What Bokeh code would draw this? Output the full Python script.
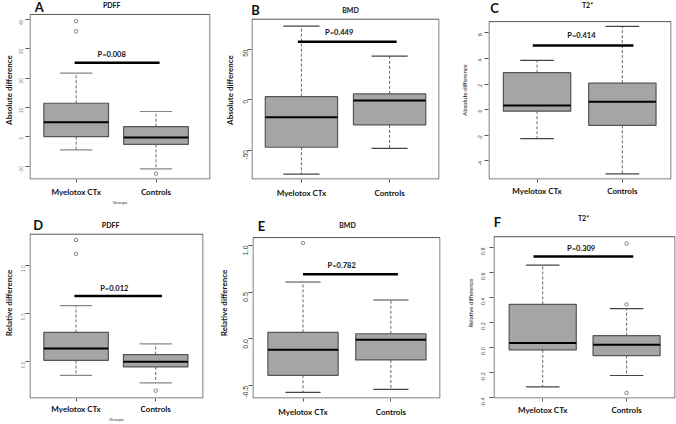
import math
from bokeh.plotting import figure
from bokeh.models import FixedTicker, PrintfTickFormatter, Range1d
from bokeh.layouts import column, row
from bokeh.embed import file_html
from bokeh.resources import INLINE
from bokeh.core.properties import value

# ---------------- data ----------------
groups = ["Myelotox CTx", "Controls"]
positions = [1, 2]

# A: absolute difference, PDFF
a_q1 = [0.0, -2.6]
a_med = [4.9, -0.3]
a_q3 = [11.4, 3.4]
a_lo = [-4.5, -11.0]
a_hi = [21.7, 8.6]
a_out_x = [1, 1, 2]
a_out_y = [39.4, 35.9, -12.6]
a_ticks = [-10, 0, 10, 20, 30, 40]
a_p = "P=0.008"
a_bar_y = 25.2

# B: absolute difference, BMD
b_q1 = [-47.2, -25.0]
b_med = [-17.3, -0.6]
b_q3 = [3.2, 5.9]
b_lo = [-73.9, -48.4]
b_hi = [73.4, 43.5]
b_out_x = []
b_out_y = []
b_ticks = [-50, 0, 50]
b_p = "P=0.449"
b_bar_y = 57.8

# C: absolute difference, T2*
c_q1 = [-0.13, -1.24]
c_med = [0.32, 0.61]
c_q3 = [2.89, 2.07]
c_lo = [-2.27, -5.04]
c_hi = [3.85, 6.52]
c_out_x = []
c_out_y = []
c_ticks = [-4, -2, 0, 2, 4, 6]
c_p = "P=0.414"
c_bar_y = 5.01

# D: relative difference, PDFF
d_q1 = [0.01, -0.058]
d_med = [0.135, -0.004]
d_q3 = [0.301, 0.071]
d_lo = [-0.146, -0.224]
d_hi = [0.579, 0.183]
d_out_x = [1, 1, 2]
d_out_y = [1.263, 1.118, -0.305]
d_ticks = [0.0, 0.5, 1.0]
d_p = "P=0.012"
d_bar_y = 0.681

# E: relative difference, BMD
e_q1 = [-0.388, -0.224]
e_med = [-0.115, -0.007]
e_q3 = [0.07, 0.056]
e_lo = [-0.570, -0.538]
e_hi = [0.609, 0.417]
e_out_x = [1]
e_out_y = [1.025]
e_ticks = [-0.5, 0.0, 0.5, 1.0]
e_p = "P=0.782"
e_bar_y = 0.692

# F: relative difference, T2*
f_q1 = [-0.02, -0.066]
f_med = [0.034, 0.021]
f_q3 = [0.343, 0.093]
f_lo = [-0.317, -0.226]
f_hi = [0.657, 0.309]
f_out_x = [2, 2, 2]
f_out_y = [0.83, 0.343, -0.365]
f_ticks = [-0.4, -0.2, 0.0, 0.2, 0.4, 0.6, 0.8]
f_p = "P=0.309"
f_bar_y = 0.727

# ---------------- layout ----------------
COL_EDGES = [0, 212, 443, 676]
ROW_EDGES = [0, 207, 424]

BOX_FILL = "#a5a5a5"
EDGE = "#555555"


def make_panel(d, s):
    c1, c2 = s["centers"]
    fl, fr, ft, fb = s["frame"]          # visible box, page pixels
    unit = c2 - c1
    xmin = 1 - (c1 - fl) / unit
    xmax = 1 + (fr - c1) / unit
    ymin, ymax = s["yrange"]
    cx0, cx1 = COL_EDGES[s["col"]], COL_EDGES[s["col"] + 1]
    ry0, ry1 = ROW_EDGES[s["row"]], ROW_EDGES[s["row"] + 1]
    W, H = cx1 - cx0, ry1 - ry0
    L = round(fl - cx0)
    R = round(cx1 - fr)
    B = round(ry1 - fb)
    frame_w = W - L - R
    frame_h = H - B
    box_h = frame_h - (ft - ry0)
    # the data frame reaches the top of the canvas so that the panel
    # letter and title can be drawn as text glyphs
    ytop = ymin + (ymax - ymin) * frame_h / box_h
    p = figure(width=W, height=H, x_range=Range1d(xmin, xmax),
               y_range=Range1d(ymin, ytop), output_backend="svg",
               toolbar_location=None, min_border_left=L, min_border_right=R,
               min_border_top=0, min_border_bottom=B)
    p.title.visible = False
    p.xgrid.visible = False
    p.ygrid.visible = False
    p.outline_line_color = None
    p.background_fill_color = "white"
    p.border_fill_color = "white"

    dxp = (xmax - xmin) / frame_w
    dyp = (ytop - ymin) / frame_h

    def rx(xr):
        return xmin + (xr - cx0 - L) * dxp

    def ry(yr):
        return ymin + (ry1 - B - yr) * dyp

    # plot box
    p.quad(left=[xmin + 0.5 * dxp], right=[xmax - 0.5 * dxp],
           bottom=[ymin + 0.5 * dyp], top=[ymax], fill_color=None,
           line_color=EDGE, line_width=1)

    bw = s["bw"]
    q1, med, q3, lo, hi = d["q1"], d["med"], d["q3"], d["lo"], d["hi"]
    p.segment(x0=positions, y0=q3, x1=positions, y1=hi, line_color="#666666",
              line_width=1, line_dash="3 2")
    p.segment(x0=positions, y0=q1, x1=positions, y1=lo, line_color="#666666",
              line_width=1, line_dash="3 2")
    p.segment(x0=[x - bw / 4 for x in positions], y0=hi,
              x1=[x + bw / 4 for x in positions], y1=hi,
              line_color=s["cap"], line_width=1.2)
    p.segment(x0=[x - bw / 4 for x in positions], y0=lo,
              x1=[x + bw / 4 for x in positions], y1=lo,
              line_color=s["cap"], line_width=1.2)
    p.vbar(x=positions, width=bw, bottom=q1, top=q3, fill_color=BOX_FILL,
           line_color=EDGE, line_width=1.2)
    p.segment(x0=[x - bw / 2 for x in positions], y0=med,
              x1=[x + bw / 2 for x in positions], y1=med,
              line_color="black", line_width=2)
    if d["out_x"]:
        p.scatter(x=d["out_x"], y=d["out_y"], marker="circle", size=3.5,
                  fill_color=None, line_color="#666666", line_width=0.8)
    bx0, bx1 = s["bar_x"]
    p.segment(x0=[bx0], y0=[d["bar_y"]], x1=[bx1], y1=[d["bar_y"]],
              line_color="black", line_width=2.5)
    tx, ty = s["ptext"]
    p.text(x=[tx], y=[ty], text=[d["p"]], text_font=value("Lato"),
           text_font_style="bold", text_font_size="7.5px", text_color="#111111",
           text_align="center", text_baseline="middle")

    # panel letter and title
    lx, ly = s["letter"]
    p.text(x=[rx(lx)], y=[ry(ly)], text=[s["letter_text"]],
           text_font=value("Lato"), text_font_style="bold",
           text_font_size="13px", text_color="#111111",
           text_align="center", text_baseline="middle")
    tx2, ty2 = s["title_pos"]
    p.text(x=[rx(tx2)], y=[ry(ty2)], text=[s["title"]],
           text_font=value("Lato"), text_font_style="bold",
           text_font_size="7px", text_color="#111111",
           text_align="center", text_baseline="middle")

    # axes
    p.axis.axis_line_color = None
    p.axis.minor_tick_line_color = None
    p.axis.major_tick_in = 0
    p.axis.major_tick_line_color = EDGE

    xa = p.xaxis[0]
    xa.ticker = FixedTicker(ticks=positions)
    xa.major_label_overrides = {1: groups[0], 2: groups[1]}
    xa.major_tick_out = 3
    xa.major_label_standoff = s["x_standoff"]
    xa.major_label_text_font = "Lato"
    xa.major_label_text_font_style = "bold"
    xa.major_label_text_font_size = "8px"
    xa.major_label_text_color = "#111111"
    if s.get("xlabel"):
        xa.axis_label = s["xlabel"]
        xa.axis_label_text_font = "Lato"
        xa.axis_label_text_font_style = "normal"
        xa.axis_label_text_font_size = "4.5px"
        xa.axis_label_text_color = "#333333"
        xa.axis_label_standoff = 0

    ya = p.yaxis[0]
    ya.ticker = FixedTicker(ticks=d["ticks"])
    ya.formatter = PrintfTickFormatter(format=s["fmt"])
    ya.major_label_orientation = math.pi / 2
    ya.major_tick_out = 4
    ya.major_label_standoff = s["y_standoff"]
    ya.major_label_text_font = "Liberation Sans"
    ya.major_label_text_font_size = s["tick_size"]
    ya.major_label_text_color = s["tick_color"]
    ya.axis_label = s["ylabel"]
    ya.axis_label_text_font = "Lato"
    ya.axis_label_text_font_style = s["ylabel_style"]
    ya.axis_label_text_font_size = s["ylabel_size"]
    ya.axis_label_text_color = "#111111"
    ya.axis_label_standoff = s["ylabel_standoff"]
    return p


def pack(prefix):
    g = globals()
    return {k: g[prefix + "_" + k] for k in
            ["q1", "med", "q3", "lo", "hi", "out_x", "out_y", "ticks", "p", "bar_y"]}


spec_a = dict(col=0, row=0, centers=(72.7, 154.3), frame=(25, 210, 14, 180),
              yrange=(-14.6, 41.7), bw=0.81, cap="#888888", bar_x=(0.98, 2.045),
              ptext=(1.445, 28.0), fmt="%d", x_standoff=4, xlabel="Groups",
              y_standoff=4, tick_size="5px", tick_color="#888888",
              ylabel="Absolute difference", ylabel_style="bold", ylabel_size="8px",
              ylabel_standoff=1, letter=(35, 7), letter_text="A",
              title="PDFF", title_pos=(109, 5))
spec_b = dict(col=1, row=0, centers=(300.7, 389.0), frame=(250.7, 439, 19, 182.3),
              yrange=(-79.3, 80.3), bw=0.82, cap="#444444", bar_x=(0.96, 2.08),
              ptext=(1.428, 67.4), fmt="%d", x_standoff=5,
              y_standoff=2, tick_size="6.5px", tick_color="#333333",
              ylabel="Absolute difference", ylabel_style="bold", ylabel_size="8px",
              ylabel_standoff=3, letter=(255, 10), letter_text="B",
              title="BMD", title_pos=(350, 9.5))
spec_c = dict(col=2, row=0, centers=(536.7, 621.7), frame=(488.3, 670.7, 22.3, 189.3),
              yrange=(-5.48, 6.89), bw=0.79, cap="#444444", bar_x=(0.95, 2.13),
              ptext=(1.52, 5.8), fmt="%d", x_standoff=3,
              y_standoff=4, tick_size="5.5px", tick_color="#444444",
              ylabel="Absolute difference", ylabel_style="normal", ylabel_size="6px",
              ylabel_standoff=6, letter=(494, 8), letter_text="C",
              title="T2*", title_pos=(587, 5))
spec_d = dict(col=0, row=1, centers=(72.7, 154.3), frame=(25, 203.3, 234.3, 402.3),
              yrange=(-0.386, 1.322), bw=0.81, cap="#888888", bar_x=(0.98, 2.08),
              ptext=(1.48, 0.755), fmt="%.1f", x_standoff=2, xlabel="Groups",
              y_standoff=2, tick_size="5px", tick_color="#888888",
              ylabel="Relative difference", ylabel_style="bold", ylabel_size="8px",
              ylabel_standoff=3, letter=(34, 225), letter_text="D",
              title="PDFF", title_pos=(108, 224.5))
spec_e = dict(col=1, row=1, centers=(302.3, 390.3), frame=(251.7, 440, 237.7, 401.7),
              yrange=(-0.636, 1.084), bw=0.80, cap="#444444", bar_x=(1.0, 2.08),
              ptext=(1.44, 0.787), fmt="%.1f", x_standoff=5,
              y_standoff=3, tick_size="7px", tick_color="#333333",
              ylabel="Relative difference", ylabel_style="bold", ylabel_size="8px",
              ylabel_standoff=9, letter=(261, 226), letter_text="E",
              title="BMD", title_pos=(347, 224.5))
spec_f = dict(col=2, row=1, centers=(542.0, 626.0), frame=(492.7, 675, 237.3, 405),
              yrange=(-0.41, 0.885), bw=0.80, cap="#444444", bar_x=(0.89, 2.08),
              ptext=(1.458, 0.794), fmt="%.1f", x_standoff=3,
              y_standoff=6, tick_size="5.5px", tick_color="#444444",
              ylabel="Relative difference", ylabel_style="normal", ylabel_size="6px",
              ylabel_standoff=3, letter=(497, 222), letter_text="F",
              title="T2*", title_pos=(583, 218))

pA = make_panel(pack("a"), spec_a)
pB = make_panel(pack("b"), spec_b)
pC = make_panel(pack("c"), spec_c)
pD = make_panel(pack("d"), spec_d)
pE = make_panel(pack("e"), spec_e)
pF = make_panel(pack("f"), spec_f)

layout = column(row(pA, pB, pC, spacing=0), row(pD, pE, pF, spacing=0), spacing=0)

with open("out.html", "w") as fh:
    fh.write(file_html(layout, INLINE))
